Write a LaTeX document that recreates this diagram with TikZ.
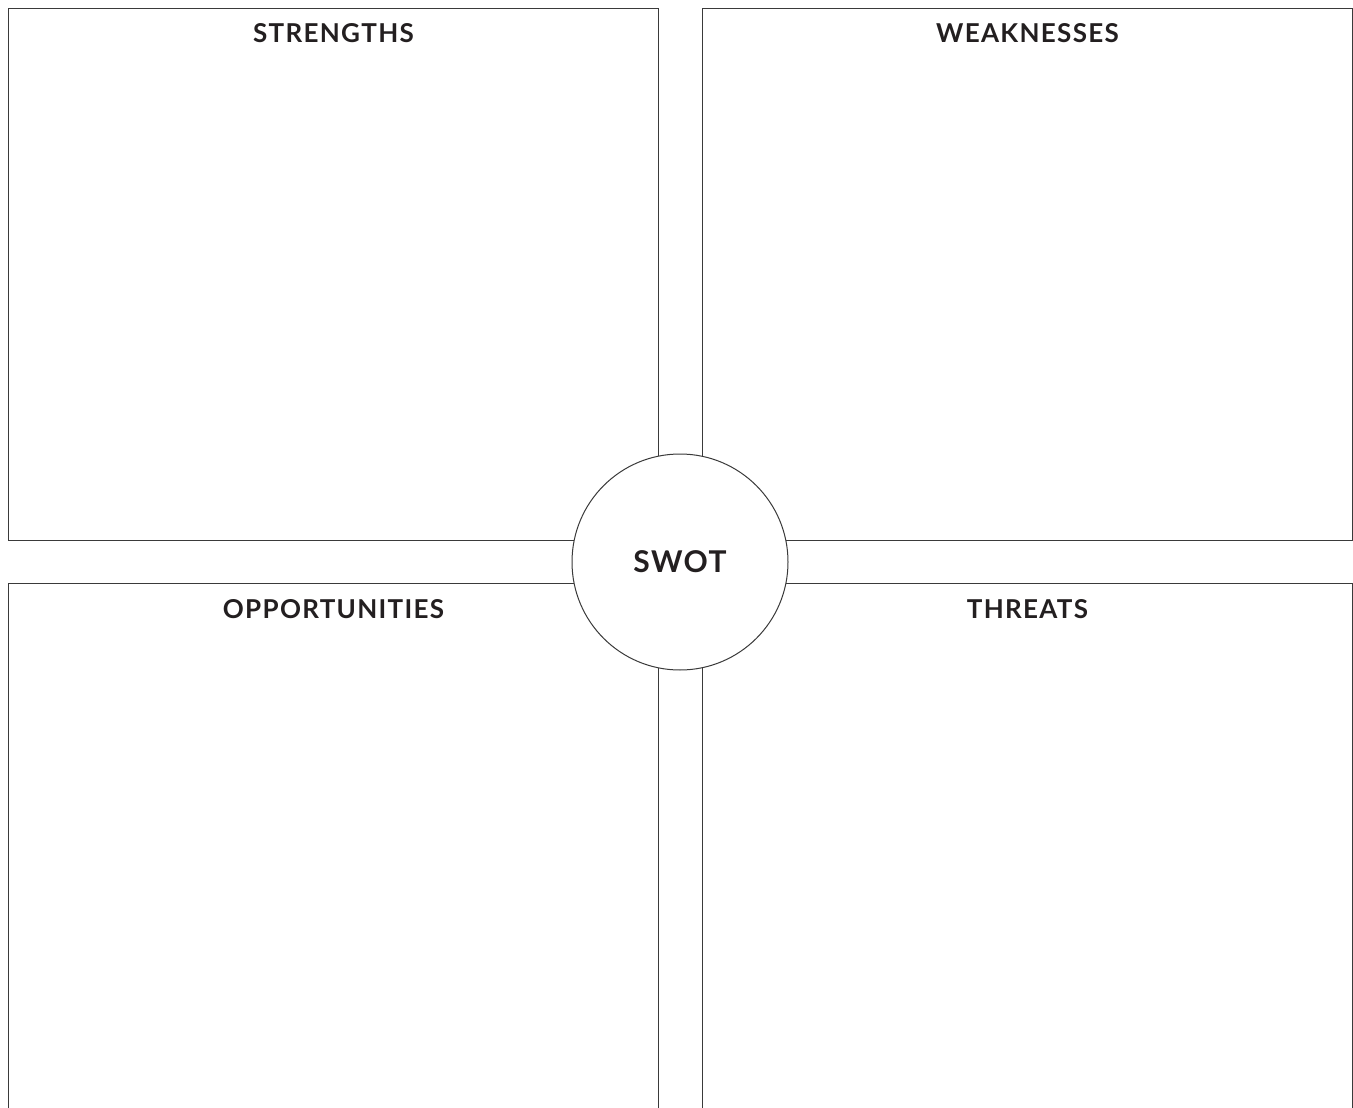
\documentclass[tikz,border=0pt]{standalone}
\usepackage{fontspec}
\setmainfont{Lato}[LetterSpace=5]
\usetikzlibrary{positioning,calc}
\definecolor{inkgray}{HTML}{231F20}
\definecolor{linegray}{HTML}{3A3A3A}
\tikzset{
  quad/.style  = {draw=linegray, line width=1pt, anchor=north west, inner sep=0pt,
                  minimum width=650pt, minimum height=532pt},
  quadlo/.style = {quad, minimum height=600pt},
  ttl/.style   = {font=\fontsize{26}{30}\selectfont\bfseries, text=inkgray,
                  inner sep=0pt, anchor=center},
  hub/.style   = {circle, draw=linegray, line width=1pt, fill=white, inner sep=0pt,
                  minimum size=216pt, text=inkgray,
                  font=\fontsize{30}{34}\selectfont\bfseries},
}
\begin{document}
\begin{tikzpicture}[x=1pt,y=-1pt]
  \clip (0,0) rectangle (1353,1108);
  % four quadrants
  \node[quad]   (str) at (8,8)     {};
  \node[quad]   (wea) at (702,8)   {};
  \node[quadlo] (opp) at (8,583)   {};
  \node[quadlo] (thr) at (702,583) {};
  % titles
  \node[ttl] at ($(str.north)+(0,25.5)$) {STRENGTHS};
  \node[ttl] at ($(wea.north)+(0,25.5)$) {WEAKNESSES};
  \node[ttl] at ($(opp.north)+(0,26.5)$) {OPPORTUNITIES};
  \node[ttl] at ($(thr.north)+(0,26.5)$) {THREATS};
  % centre
  \node[hub] (swot) at (680,562) {SWOT};
\end{tikzpicture}
\end{document}
